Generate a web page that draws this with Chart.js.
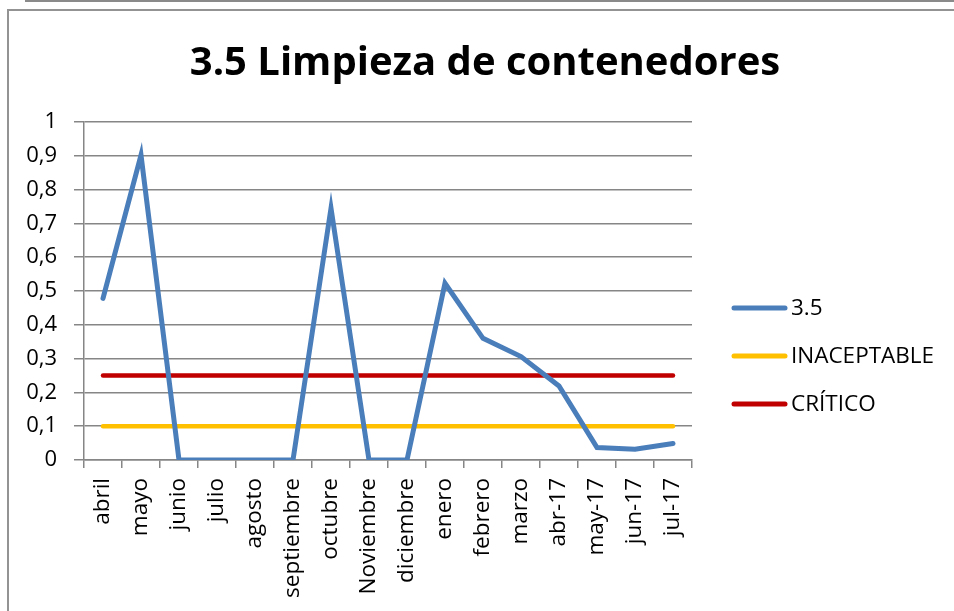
<!DOCTYPE html>
<html>
<head>
<meta charset="utf-8">
<script src="https://cdn.jsdelivr.net/npm/chart.js@4.4.1/dist/chart.umd.min.js"></script>
<style>
  html, body { margin: 0; padding: 0; background: #fff; }
  body { width: 954px; height: 611px; position: relative; overflow: hidden; }
  #topline { position: absolute; left: 25px; top: 0; width: 929px; height: 2px; background: #8a8a8a; }
  #frame { position: absolute; left: 7px; top: 9px; width: 960px; height: 620px; border-left: 2px solid #939393; border-top: 2px solid #939393; }
  #c { position: absolute; left: 0; top: 0; }
</style>
</head>
<body>
<div id="topline"></div>
<div id="frame"></div>
<canvas id="c" width="954" height="611"></canvas>
<script>
const titleText = '3.5 Limpieza de contenedores';
const categories = ['abril','mayo','junio','julio','agosto','septiembre','octubre','Noviembre','diciembre','enero','febrero','marzo','abr-17','may-17','jun-17','jul-17'];
const serie35 = [0.478, 0.902, 0, 0, 0, 0, 0.745, 0, 0, 0.523, 0.36, 0.306, 0.219, 0.037, 0.032, 0.049];
const inaceptable = [0.1,0.1,0.1,0.1,0.1,0.1,0.1,0.1,0.1,0.1,0.1,0.1,0.1,0.1,0.1,0.1];
const critico = [0.25,0.25,0.25,0.25,0.25,0.25,0.25,0.25,0.25,0.25,0.25,0.25,0.25,0.25,0.25,0.25];
const yTickLabels = ['0','0,1','0,2','0,3','0,4','0,5','0,6','0,7','0,8','0,9','1'];
const seriesNames = ['3.5','INACEPTABLE','CRÍTICO'];
const seriesColors = ['#4A7EBB','#FFC000','#C00000'];

const FONT = '"Open Sans", "DejaVu Sans", sans-serif';
const GRID = '#868686';

const legendPlugin = {
  id: 'sideLegend',
  afterDraw(chart) {
    const ctx = chart.ctx;
    const side = chart.scales.y2;
    const area = chart.chartArea;
    const x0 = side.left + 40;
    ctx.save();
    ctx.font = '22.5px ' + FONT;
    ctx.textBaseline = 'middle';
    ctx.textAlign = 'left';
    chart.data.datasets.forEach((ds, i) => {
      const y = area.top + 186 + i * 48;
      ctx.strokeStyle = ds.borderColor;
      ctx.lineWidth = 5;
      ctx.lineCap = 'round';
      ctx.beginPath();
      ctx.moveTo(x0 + 2, y);
      ctx.lineTo(x0 + 53, y);
      ctx.stroke();
      ctx.fillStyle = '#000';
      ctx.fillText(ds.label, x0 + 59, y + 1);
    });
    ctx.restore();
  }
};

new Chart(document.getElementById('c'), {
  type: 'line',
  data: {
    labels: categories,
    datasets: [
      { label: seriesNames[0], data: serie35, borderColor: seriesColors[0], backgroundColor: seriesColors[0], borderWidth: 5, pointRadius: 0, borderCapStyle: 'round', tension: 0 },
      { label: seriesNames[1], data: inaceptable, borderColor: seriesColors[1], backgroundColor: seriesColors[1], borderWidth: 4.5, pointRadius: 0, borderCapStyle: 'round' },
      { label: seriesNames[2], data: critico, borderColor: seriesColors[2], backgroundColor: seriesColors[2], borderWidth: 4.5, pointRadius: 0, borderCapStyle: 'round' }
    ]
  },
  options: {
    responsive: false,
    animation: false,
    events: [],
    layout: { padding: { left: 16, right: 0, top: 0, bottom: 0 } },
    plugins: {
      legend: { display: false },
      tooltip: { enabled: false },
      title: {
        display: true,
        text: titleText,
        color: '#000',
        font: { family: FONT, size: 40, weight: 'bold', lineHeight: 1.2 },
        padding: { top: 40, bottom: 34 }
      }
    },
    scales: {
      x: {
        offset: true,
        grid: { offset: true, drawOnChartArea: false, drawTicks: true, tickLength: 8, color: GRID, lineWidth: 1.5 },
        border: { display: true, color: GRID, width: 1.5 },
        ticks: { autoSkip: false, maxRotation: 90, minRotation: 90, padding: 10, color: '#000', font: { family: FONT, size: 22.5 } },
        afterFit(s) { s.height = 151; }
      },
      y: {
        min: 0, max: 1,
        ticks: { stepSize: 0.1, padding: 17, color: '#000', font: { family: FONT, size: 22 },
                 callback: (v, i) => yTickLabels[i] },
        grid: { color: GRID, lineWidth: 1.5, tickLength: 10, drawTicks: true },
        border: { display: true, color: GRID, width: 1.5 },
        afterFit(s) { s.width = 68; }
      },
      y2: {
        position: 'right',
        display: true,
        grid: { display: false, drawTicks: false },
        border: { display: false },
        ticks: { display: false },
        afterFit(s) { s.width = 262; }
      }
    }
  },
  plugins: [legendPlugin]
});
</script>
</body>
</html>
